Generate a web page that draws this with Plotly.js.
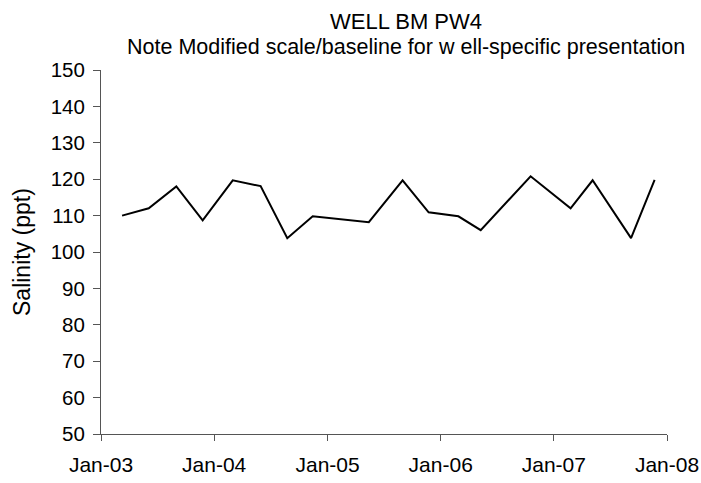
<!DOCTYPE html>
<html>
<head>
<meta charset="utf-8">
<script src="https://cdn.plot.ly/plotly-3.0.1.min.js"></script>
<style>html,body{margin:0;padding:0;background:#fff;}#chart{width:701px;height:483px;}</style>
</head>
<body>
<div id="chart"></div>
<script>
var sampleDates = ["2003-03-10","2003-06-04","2003-09-01","2003-11-25","2004-03-01","2004-05-30","2004-08-24","2004-11-14","2005-05-14","2005-08-31","2005-11-23","2006-02-27","2006-05-10","2006-10-18","2007-02-24","2007-05-06","2007-09-07","2007-11-22"];
var salinity = [110,112,118,108.7,119.7,118.1,103.8,109.8,108.2,119.7,110.9,109.8,106,120.8,112,119.7,103.8,119.8];
var xTickVals = ["2003-01-01","2004-01-01","2005-01-01","2006-01-01","2007-01-01","2008-01-01"];
var xTickText = ["Jan-03","Jan-04","Jan-05","Jan-06","Jan-07","Jan-08"];
var yTickVals = [50,60,70,80,90,100,110,120,130,140,150];
var titleLine1 = "WELL BM PW4";
var titleLine2 = "Note Modified scale/baseline for w ell-specific presentation";
var yTitle = "Salinity (ppt)";

var font = "Liberation Sans, Arial, sans-serif";
var trace = {
  x: sampleDates, y: salinity, type: "scatter", mode: "lines",
  line: {color: "#000", width: 2}, hoverinfo: "skip"
};
var layout = {
  width: 701, height: 483,
  margin: {l: 101, r: 34, t: 70, b: 49},
  paper_bgcolor: "#fff", plot_bgcolor: "#fff",
  showlegend: false,
  font: {family: font, color: "#000", size: 20},
  xaxis: {
    type: "date", range: ["2003-01-01","2008-01-01"],
    tickvals: xTickVals, ticktext: xTickText,
    showgrid: false, zeroline: false,
    showline: true, linecolor: "#555", linewidth: 1,
    ticks: "outside", ticklen: 6, tickcolor: "#555",
    ticklabelstandoff: 6,
    tickfont: {family: font, size: 21, color: "#000"}
  },
  yaxis: {
    range: [50, 150], tickvals: yTickVals,
    showgrid: false, zeroline: false,
    showline: true, linecolor: "#555", linewidth: 1,
    ticks: "outside", ticklen: 7, tickcolor: "#555",
    ticklabelstandoff: 4,
    tickfont: {family: font, size: 20.5, color: "#000"}
  },
  annotations: [
    {text: titleLine1, xref: "paper", yref: "paper", x: 0.539, y: 1, yshift: 49,
     xanchor: "center", yanchor: "middle", showarrow: false,
     font: {family: font, size: 22, color: "#000"}},
    {text: titleLine2, xref: "paper", yref: "paper", x: 0.539, y: 1, yshift: 23,
     xanchor: "center", yanchor: "middle", showarrow: false,
     font: {family: font, size: 21.5, color: "#000"}},
    {text: yTitle, xref: "paper", yref: "paper", x: 0, xshift: -79, y: 0.5,
     xanchor: "center", yanchor: "middle", textangle: -90, showarrow: false,
     font: {family: font, size: 23, color: "#000"}}
  ]
};
Plotly.newPlot("chart", [trace], layout, {displayModeBar: false, staticPlot: true});
</script>
</body>
</html>
